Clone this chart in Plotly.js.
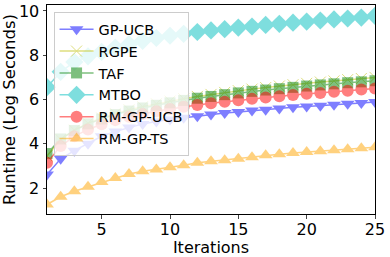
<!DOCTYPE html>
<html><head><meta charset="utf-8">
<script src="https://cdn.plot.ly/plotly-3.0.1.min.js"></script>
<style>body{margin:0;padding:0;background:#fff}#c{width:390px;height:257px}</style>
</head><body><div id="c"></div>
<script>
const iterations = [1,2,3,4,5,6,7,8,9,10,11,12,13,14,15,16,17,18,19,20,21,22,23,24,25];
const gpUcb   = [2.61,3.32,3.69,4.0,4.34,4.56,4.74,4.9,5.01,5.1,5.18,5.24,5.32,5.39,5.44,5.5,5.54,5.6,5.65,5.69,5.72,5.77,5.81,5.84,5.89];
const rgpe    = [3.45,4.2,4.62,4.93,5.17,5.37,5.54,5.68,5.81,5.93,6.04,6.14,6.23,6.32,6.4,6.47,6.54,6.61,6.67,6.73,6.79,6.84,6.9,6.95,7.0];
const taf     = [3.56,4.22,4.6,4.9,5.12,5.32,5.48,5.62,5.74,5.85,5.96,6.06,6.14,6.22,6.3,6.37,6.43,6.49,6.55,6.61,6.66,6.71,6.76,6.8,6.85];
const mtbo    = [6.56,7.25,7.7,7.95,8.15,8.35,8.5,8.65,8.78,8.88,8.97,9.05,9.12,9.18,9.25,9.3,9.37,9.42,9.47,9.52,9.57,9.62,9.66,9.7,9.78];
const rmGpUcb = [3.14,3.9,4.34,4.65,4.88,5.07,5.22,5.35,5.47,5.57,5.67,5.75,5.83,5.9,5.97,6.03,6.09,6.15,6.2,6.26,6.3,6.35,6.4,6.45,6.5];
const rmGpTs  = [1.26,1.61,1.86,2.06,2.27,2.46,2.64,2.76,2.84,2.94,3.03,3.14,3.21,3.26,3.33,3.39,3.48,3.53,3.59,3.63,3.66,3.71,3.75,3.8,3.84];
const names = ['GP-UCB','RGPE','TAF','MTBO','RM-GP-UCB','RM-GP-TS'];

const series = [gpUcb, rgpe, taf, mtbo, rmGpUcb, rmGpTs];
const colors = ['#0000ff','#bfbf00','#008000','#00bfbf','#ff0000','#ffa500'];
const symbols = ['triangle-down','x-thin','square','diamond','circle','triangle-up'];
const sizes = [12,11,11,14,12,12];

const traces = series.map((ys,i)=>({
  x: iterations, y: ys, name: names[i], type:'scatter', mode:'lines+markers',
  opacity: 0.5,
  line:{color:colors[i], width:1.5},
  marker:{symbol:symbols[i], size:sizes[i], color:colors[i],
          line:{color:colors[i], width: symbols[i]==='x-thin'?1:0}}
}));

const layout = {
  width:390, height:257,
  margin:{l:47, r:15, t:5, b:43},
  paper_bgcolor:'#fff', plot_bgcolor:'#fff',
  font:{family:'DejaVu Sans', color:'#000'},
  showlegend:true,
  legend:{x:0.02, y:0.965, xanchor:'left', yanchor:'top',
    bgcolor:'rgba(255,255,255,0.8)', bordercolor:'#cccccc', borderwidth:1,
    font:{size:14.5, family:'DejaVu Sans'}, tracegroupgap:0, itemwidth:34},
  xaxis:{range:[1,25], tickvals:[5,10,15,20,25], ticks:'outside', ticklen:3.5,
    ticklabelstandoff:-3,
    showline:true, mirror:true, linecolor:'#000', linewidth:1, showgrid:false, zeroline:false,
    tickfont:{size:16},
    title:{text:'Iterations', font:{size:16}, standoff:3}},
  yaxis:{range:[0.83,10.27], tickvals:[2,4,6,8,10], ticks:'outside', ticklen:3.5,
    showline:true, mirror:true, linecolor:'#000', linewidth:1, showgrid:false, zeroline:false,
    tickfont:{size:16},
    title:{text:'Runtime (Log Seconds)', font:{size:16.5}, standoff:4}}
};
Plotly.newPlot('c', traces, layout, {staticPlot:true, displayModeBar:false});
</script></body></html>
